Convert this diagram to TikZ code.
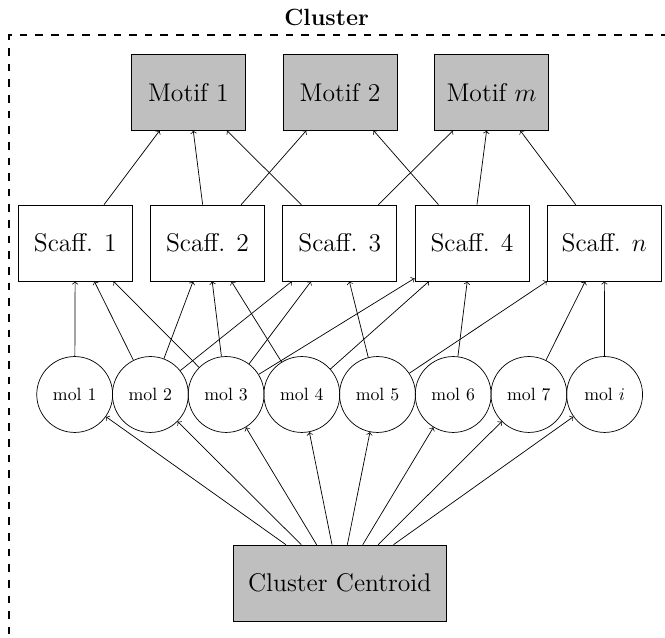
\documentclass[tikz,border=0pt]{standalone}
\begin{document}
\begin{tikzpicture}[x=0.5625pt, y=-0.5625pt,
  box/.style={draw, minimum width=64.1pt, minimum height=42.7pt, inner sep=0pt, font=\Large},
  motif/.style={box, fill=gray!50},
  mol/.style={draw, circle, minimum size=42.7pt, inner sep=0pt, font=\normalsize},
  link/.style={->},
  frame/.style={line width=1.1pt, dash pattern=on 4.3pt off 4.5pt}
]
\useasboundingbox (0,0) rectangle (665,638);
\clip (0,0) rectangle (665,638);

% cluster frame (open towards the right and the bottom) and its title
\coordinate (fr) at (700,35);
\coordinate (fc) at (9,35);
\coordinate (fb) at (9,700);
\draw[frame] (fr) -- (fc) -- (fb);
\node[font=\fontsize{13.2}{16}\selectfont\bfseries, anchor=base] (title) at (326.7,26) {Cluster};

% motifs
\node[motif] (m1) at (188.4,92.2) {Motif 1};
\node[motif] (m2) at (340,92.2) {Motif 2};
\node[motif] (mm) at (491.6,92.2) {Motif $m$};

% scaffolds
\node[box] (s1) at (75.3,243) {Scaff. 1};
\node[box] (s2) at (207.5,243) {Scaff. 2};
\node[box] (s3) at (339.8,243) {Scaff. 3};
\node[box] (s4) at (472,243) {Scaff. 4};
\node[box] (sn) at (604.3,243) {Scaff. $n$};

% molecules
\node[mol] (c1) at (74.7,394.5) {mol 1};
\node[mol] (c2) at (150.4,394.5) {mol 2};
\node[mol] (c3) at (226.1,394.5) {mol 3};
\node[mol] (c4) at (301.8,394.5) {mol 4};
\node[mol] (c5) at (377.5,394.5) {mol 5};
\node[mol] (c6) at (453.2,394.5) {mol 6};
\node[mol] (c7) at (528.9,394.5) {mol 7};
\node[mol] (ci) at (604.6,394.5) {mol $i$};

% centroid
\node[motif, minimum width=119.8pt] (cc) at (339.7,583) {Cluster Centroid};

% centroid -> molecules
\foreach \m in {c1,c2,c3,c4,c5,c6,c7,ci}
  \draw[link] (cc) -- (\m);

% molecules -> scaffolds
\draw[link] (c1) -- (s1);
\draw[link] (c2) -- (s1);
\draw[link] (c2) -- (s2);
\draw[link] (c2) -- (s3);
\draw[link] (c3) -- (s1);
\draw[link] (c3) -- (s2);
\draw[link] (c3) -- (s3);
\draw[link] (c3) -- (s4);
\draw[link] (c4) -- (s2);
\draw[link] (c4) -- (s4);
\draw[link] (c5) -- (s3);
\draw[link] (c5) -- (sn);
\draw[link] (c6) -- (s4);
\draw[link] (c7) -- (sn);
\draw[link] (ci) -- (sn);

% scaffolds -> motifs
\draw[link] (s1) -- (m1);
\draw[link] (s2) -- (m1);
\draw[link] (s2) -- (m2);
\draw[link] (s3) -- (m1);
\draw[link] (s3) -- (mm);
\draw[link] (s4) -- (m2);
\draw[link] (s4) -- (mm);
\draw[link] (sn) -- (mm);
\end{tikzpicture}
\end{document}
